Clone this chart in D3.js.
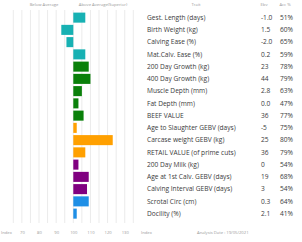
<!DOCTYPE html>
<html>
<head>
<meta charset="utf-8">
<script src="https://cdn.jsdelivr.net/npm/d3@7"></script>
<style>
  body { margin: 0; background: #fff; }
  svg { display: block; font-family: "Open Sans", sans-serif; }
</style>
</head>
<body>
<svg id="chart"></svg>
<script>
// Size of the picture
const width = 302;
const height = 242;

// Traits, EBVs, accuracies and index values (100 = average)
const traits = [
  "Gest. Length (days)", "Birth Weight (kg)", "Calving Ease (%)", "Mat.Calv. Ease (%)",
  "200 Day Growth (kg)", "400 Day Growth (kg)", "Muscle Depth (mm)", "Fat Depth (mm)",
  "BEEF VALUE", "Age to Slaughter GEBV (days)", "Carcase weight GEBV (kg)",
  "RETAIL VALUE (of prime cuts)", "200 Day Milk (kg)", "Age at 1st Calv. GEBV (days)",
  "Calving Interval GEBV (days)", "Scrotal Circ (cm)", "Docility (%)"
];
const ebvs = ["-1.0", "1.5", "-2.0", "0.2", "23", "44", "2.8", "0.0", "36", "-5", "25", "36", "0", "19", "3", "0.3", "2.1"];
const accs = ["51%", "60%", "65%", "59%", "78%", "79%", "63%", "47%", "77%", "75%", "80%", "79%", "54%", "68%", "54%", "64%", "41%"];
const indexes = [107, 93, 96, 107, 109, 110, 105, 103, 106, 102, 123, 107, 103, 109, 108, 109, 102];
const groups = ["calving", "calving", "calving", "calving",
  "growth", "growth", "growth", "growth", "growth",
  "carcase", "carcase", "carcase",
  "maternal", "maternal", "maternal",
  "other", "other"];
const ticks = [70, 80, 90, 100, 110, 120, 130];

const svg = d3.select("#chart")
  .attr("width", width)
  .attr("height", height);

// Scales
const x = d3.scaleLinear()
  .domain([65, 135])
  .range([13.3, 133.3]);

const y = d3.scaleBand()
  .domain(traits)
  .range([11.5, 11.5 + traits.length * 12.25])
  .paddingInner(0.18)
  .paddingOuter(0.09);

const color = d3.scaleOrdinal()
  .domain(["calving", "growth", "carcase", "maternal", "other"])
  .range(["#17b1b3", "#0a800a", "#ffa000", "#800080", "#1e8fe6"]);

// Grid lines every 5 index points
svg.append("g")
  .selectAll("line")
  .data(d3.range(65, 136, 5))
  .enter().append("line")
    .attr("x1", (d) => x(d))
    .attr("x2", (d) => x(d))
    .attr("y1", 10)
    .attr("y2", 223)
    .attr("stroke", "#e6e6e6")
    .attr("stroke-width", 0.8);

// Bars from the average line
svg.append("g")
  .selectAll("rect")
  .data(traits)
  .enter().append("rect")
    .attr("x", (d, i) => x(Math.min(100, indexes[i])))
    .attr("y", (d) => y(d))
    .attr("width", (d, i) => Math.abs(x(indexes[i]) - x(100)))
    .attr("height", y.bandwidth())
    .attr("fill", (d, i) => color(groups[i]));

// Headers
const small = { size: 4.2, fill: "#9a9a9a" };
const header = svg.append("g")
  .attr("font-size", small.size)
  .attr("fill", small.fill);
header.append("text").attr("x", 44).attr("y", 6).attr("text-anchor", "middle").text("Below Average");
header.append("text").attr("x", 103).attr("y", 6).attr("text-anchor", "middle").text("Above Average(Superior)");
header.append("text").attr("x", 196).attr("y", 6).attr("text-anchor", "middle").text("Trait");
header.append("text").attr("x", 264).attr("y", 6).attr("text-anchor", "middle").text("Ebv");
header.append("text").attr("x", 285).attr("y", 6).attr("text-anchor", "middle").text("Acc %");

// Table of traits
const rows = svg.append("g")
  .attr("font-size", 6.6)
  .attr("fill", "#3a3a3a")
  .selectAll("g")
  .data(traits)
  .enter().append("g")
    .attr("transform", (d) => `translate(0, ${y(d) + y.bandwidth() / 2})`);

rows.append("text")
  .attr("x", 147)
  .attr("dy", "0.35em")
  .text((d) => d);

rows.append("text")
  .attr("x", 261)
  .attr("dy", "0.35em")
  .text((d, i) => ebvs[i]);

rows.append("text")
  .attr("x", 280)
  .attr("dy", "0.35em")
  .text((d, i) => accs[i]);

// Bottom axis labels
const xAxis = d3.axisBottom(x)
  .tickValues(ticks)
  .tickSize(0)
  .tickPadding(0);

const axisG = svg.append("g")
  .attr("transform", "translate(0, 231)")
  .call(xAxis);
axisG.select(".domain").remove();
axisG.selectAll("text")
  .attr("font-size", small.size)
  .attr("fill", small.fill)
  .attr("font-family", "Open Sans, sans-serif");

const foot = svg.append("g")
  .attr("font-size", small.size)
  .attr("fill", small.fill);
foot.append("text").attr("x", 1).attr("y", 234).text("Index");
foot.append("text").attr("x", 141).attr("y", 234).text("Index");
foot.append("text").attr("x", 197).attr("y", 234).text("Analysis Date : 19/05/2021");
</script>
</body>
</html>
